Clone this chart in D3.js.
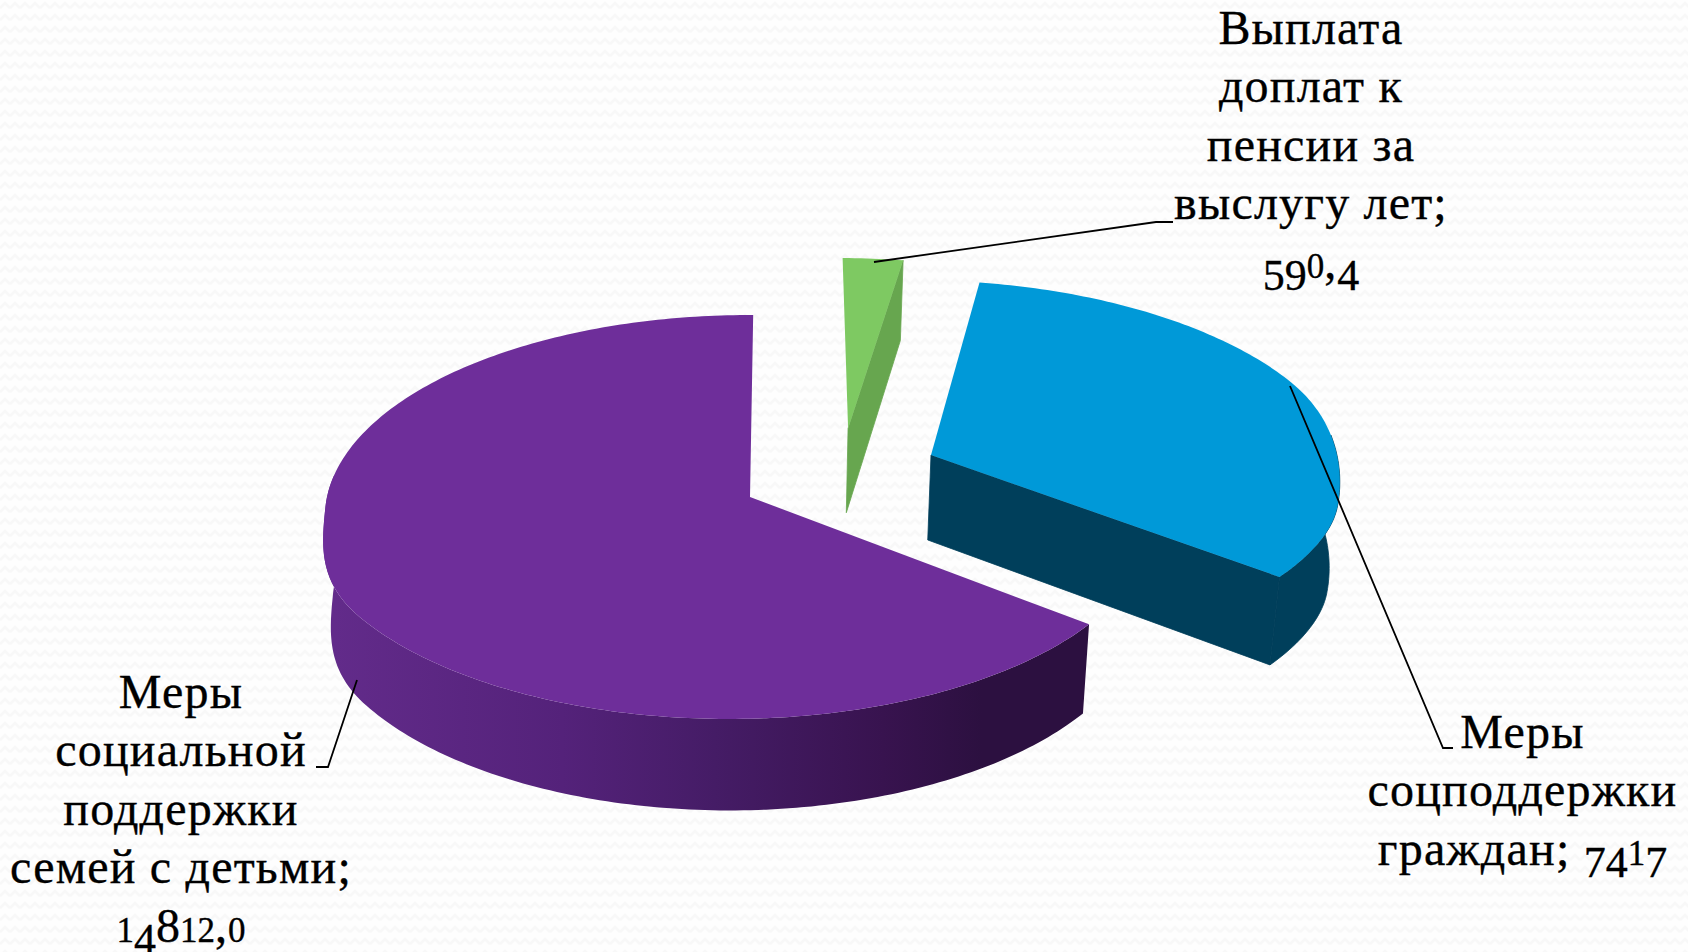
<!DOCTYPE html>
<html><head><meta charset="utf-8">
<script src="https://cdn.jsdelivr.net/npm/d3@7"></script>
<style>html,body{margin:0;padding:0;background:#fff;overflow:hidden}svg{display:block}
text{font-family:"Liberation Serif",serif;fill:#000;stroke:#000;stroke-width:.35;text-anchor:middle;letter-spacing:1.2px}</style>
</head><body><svg id="c" width="1688" height="952"></svg>
<script>
const categories = ["Меры социальной поддержки семей с детьми","Выплата доплат к пенсии за выслугу лет","Меры соцподдержки граждан"];
const values = [14812.0, 590.4, 7417];
const labelLines = [
  ["Меры","социальной","поддержки","семей с детьми;","14812,0"],
  ["Выплата","доплат к","пенсии за","выслугу лет;","590,4"],
  ["Меры","соцподдержки","граждан; 7417"]
];
const topColors = ["#6e2e9a","#7ec962","#0099d8"];
const sideColors = ["#4a1f6c","#67a64f","#003f5b"];
const explodeX = [0, 0.24, 0.437];
const explodeY = [0, -0.355, -0.2145];
const firstAngle = 126.8;

const labelCx = [181,1311,1522.5];
const labelBase = [708,44,748];
const leaders = [
  [[357,680],[328,767],[316,767]],
  [[874,262],[1156,222],[1173,222]],
  [[1290,386],[1443,748],[1453,748]]
];

const svg = d3.select("#c");
const defs = svg.append("defs");
const pat = defs.append("pattern").attr("id","bg").attr("patternUnits","userSpaceOnUse").attr("width",10).attr("height",12);
pat.append("rect").attr("width",10).attr("height",12).attr("fill","#fefefe");
pat.append("path").attr("d","M0 8L5 3L10 8").attr("fill","none").attr("stroke","#f8f8f8").attr("stroke-width",2.5);
svg.append("rect").attr("width",1688).attr("height",952).attr("fill","url(#bg)");

const grad = defs.append("linearGradient").attr("id","wall").attr("gradientUnits","userSpaceOnUse")
  .attr("x1",334).attr("x2",1096).attr("y1",0).attr("y2",0);
[[0,"#622b8a"],[0.3,"#54227a"],[0.5,"#451c66"],[0.72,"#38134f"],[0.85,"#2c1040"],[1,"#2c1040"]]
  .forEach(s=>grad.append("stop").attr("offset",s[0]).attr("stop-color",s[1]));

// perspective projection of the unit pie plane
const cx=750, cy=497, R=423, A=200, P=0.099, S=0.982, D=86, K=-21;
const xS=d3.scaleLinear().domain([-1,1]).range([cx-R,cx+R]);
const yS=d3.scaleLinear().domain([-1,1]).range([cy-A,cy+A]);
function proj(X,Y,bottom){
  const w=1-P*Y, s=bottom?S:1;
  const r=Math.min(1,Math.max(0,(Y/w-0.05)/0.55)), shear=K*r*r*(3-2*r);
  const comp=-440*Math.pow(Math.max(0,X/w-1.27),2);
  return [cx+(xS(X/w)-cx+shear+comp)*s, cy+(yS(Y/w)-cy)*s+(bottom?D/w:0)];
}
const pie=d3.pie().sort(null).value(d=>d).startAngle(firstAngle*Math.PI/180).endAngle((firstAngle+360)*Math.PI/180);
const arcs=pie(values);
const line=d3.line();
function arcPts(i,bottom){
  const a=arcs[i], n=Math.max(8,Math.round((a.endAngle-a.startAngle)*60)), pts=[];
  for(let k=0;k<=n;k++){const t=a.startAngle+(a.endAngle-a.startAngle)*k/n;
    pts.push(proj(explodeX[i]+Math.sin(t),explodeY[i]-Math.cos(t),bottom));}
  return pts;
}
function apex(i,bottom){return proj(explodeX[i],explodeY[i],bottom);}
[1,2,0].forEach(i=>{
  const a=arcs[i], top=arcPts(i,false), bot=arcPts(i,true), g=svg.append("g"), l=top.length-1;
  const idx=top.map((p,k)=>k).filter(k=>{const t=a.startAngle+(a.endAngle-a.startAngle)*k/l;return Math.cos(t)<0.12;});
  if(idx.length>1){
    const w=idx.map(k=>top[k]).concat(idx.map(k=>bot[k]).reverse());
    g.append("path").attr("d",line(w)+"Z").attr("fill",i===0?"url(#wall)":sideColors[i])
      .attr("stroke",i===0?"none":sideColors[i]).attr("stroke-width",.8);
  }
  if(i>0){
    g.append("path").attr("d",line([apex(i,false),top[l],bot[l],apex(i,true)])+"Z").attr("fill",sideColors[i])
      .attr("stroke",sideColors[i]).attr("stroke-width",.8);
  }
  g.append("path").attr("d",line([apex(i,false),...top])+"Z").attr("fill",topColors[i]);
});
leaders.forEach(l=>svg.append("path").attr("d",line(l)).attr("fill","none").attr("stroke","#000").attr("stroke-width",1.8));

// old-style figures: Liberation Serif has none, so each digit gets its own size and drop
const smallDigits="012", dropDigits="34579";
labelLines.forEach((lines,i)=>{
  lines.forEach((t,j)=>{
    const el=svg.append("text").attr("x",labelCx[i]).attr("y",labelBase[i]+j*58.4).attr("font-size",48);
    if(!/\d/.test(t)){el.text(t);return;}
    let cur=0;
    Array.from(t).forEach(ch=>{
      const small=smallDigits.includes(ch), drop=dropDigits.includes(ch), d=drop?12:0;
      el.append("tspan").attr("dy",d-cur).attr("font-size",small?35:drop?44:48)
        .style("letter-spacing",/\d/.test(ch)?"0px":null).text(ch);
      cur=d;
    });
  });
});
</script></body></html>
